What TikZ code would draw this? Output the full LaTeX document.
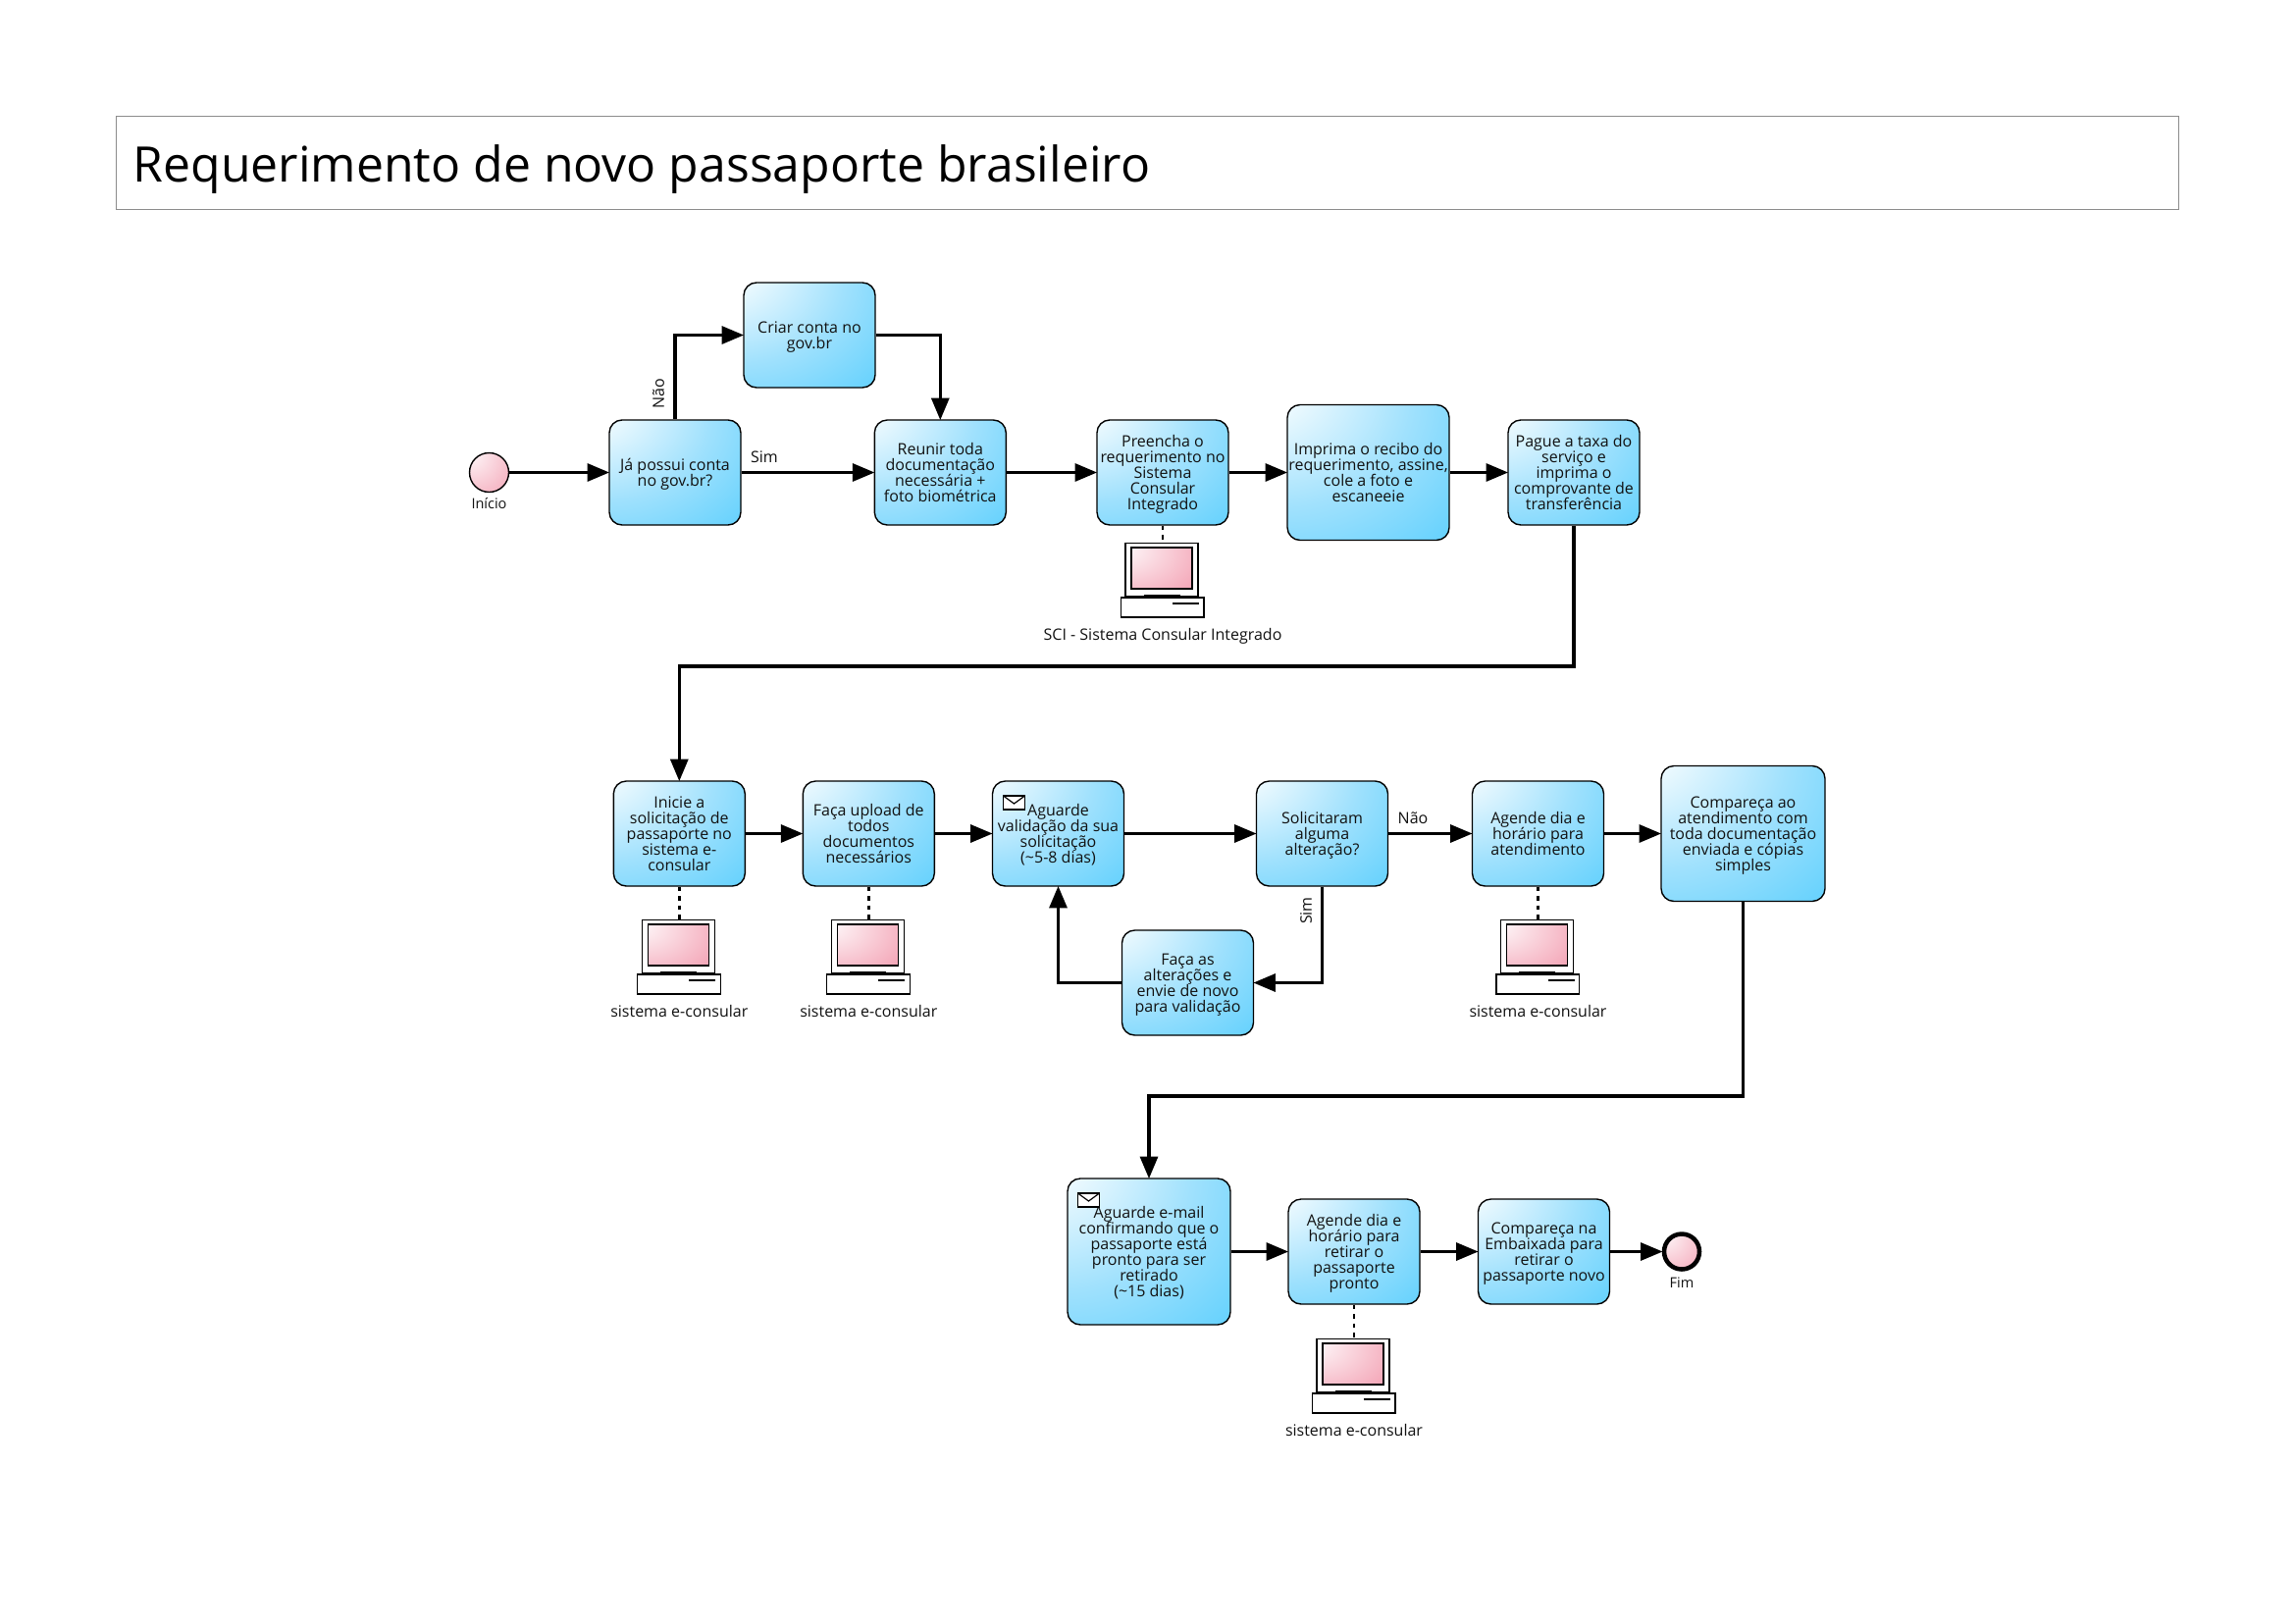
\documentclass[tikz,border=0pt]{standalone}
\usepackage{fontspec}
\setmainfont{Open Sans}
\usetikzlibrary{arrows.meta,positioning}
\definecolor{tasktext}{HTML}{111111}
\definecolor{bA}{HTML}{FFFFFF}
\definecolor{bB}{HTML}{A0E1FD}
\definecolor{bC}{HTML}{50CCFD}
\definecolor{pA}{HTML}{FDF0F3}
\definecolor{pB}{HTML}{F4A8B9}
\pgfdeclareradialshading{taskgrad}{\pgfpoint{-38bp}{38bp}}{
  color(0bp)=(bA); color(8bp)=(bA); color(41bp)=(bB); color(74bp)=(bC); color(150bp)=(bC)}
\pgfdeclareradialshading{pinkgrad}{\pgfpoint{-25bp}{25bp}}{
  color(0bp)=(pA); color(6bp)=(pA); color(58bp)=(pB); color(150bp)=(pB)}
\pgfdeclareradialshading{screengrad}{\pgfpoint{-35bp}{25bp}}{
  color(0bp)=(white); color(8bp)=(pA); color(58bp)=(pB); color(150bp)=(pB)}
\newcommand{\tx}[1]{\vbox{\baselineskip=16pt\lineskiplimit=-100pt\let\\\cr\halign{\hfil\rule{0pt}{16pt}\rule[-4pt]{0pt}{4pt}##\hfil\cr #1\cr}}}
\tikzset{
  x=1pt,y=-1pt,
  taskbox/.style={draw=black,line width=1.4pt,rounded corners=13pt,shading=taskgrad,
    minimum width=#1,inner sep=0pt,text=tasktext,
    font=\fontsize{16pt}{16pt}\selectfont},
  taskbox/.default=134pt,
  flow/.style={draw=black,line width=3.1pt,shorten >=-0.8pt,-{Triangle[length=22.5pt,width=18pt]}},
  lbl/.style={font=\fontsize{16pt}{16pt}\selectfont,text=tasktext,inner sep=0pt},
  small/.style={font=\fontsize{14.5pt}{16pt}\selectfont,text=tasktext,inner sep=0pt},
  assoc/.style={draw=black,line width=2.7pt,dash pattern=on 4.5pt off 5pt},
  startev/.style={circle,draw=black,line width=1.4pt,shading=pinkgrad,minimum size=40pt,inner sep=0pt},
  endev/.style={circle,draw=black,line width=4.5pt,shading=pinkgrad,minimum size=36pt,inner sep=0pt},
  pcline/.style={draw=black,line width=1.3pt},
}
% computer icon: #1 = name, #2 = centre x, #3 = top of monitor y
\newcommand{\pcicon}[3]{%
  \begin{scope}[shift={(#2,#3)}]
    \node[draw=black,line width=1.3pt,fill=white,minimum width=74pt,minimum height=54pt,inner sep=0pt,anchor=north] (#1) at (-1,0) {};
    \path[draw=black,line width=1.6pt,shading=screengrad] (-32,5) rectangle (30,47);
    \path[pcline,fill=white] (-18.5,54) rectangle (17,56);
    \path[pcline,fill=white] (-42.5,56) rectangle (42,76);
    \draw[black,line width=1.7pt] (10,62) -- (37,62);
  \end{scope}}
\newcommand{\envelope}[2]{%
  \begin{scope}[shift={(#1,#2)}]
    \draw[black,line width=1.2pt,fill=white] (0,0) rectangle (22,14);
    \draw[black,line width=1.2pt] (0,0) -- (11,8) -- (22,0);
  \end{scope}}
\begin{document}
\begin{tikzpicture}
\useasboundingbox (0,0) rectangle (2339,1654);
\node[draw=black!45,line width=1pt,anchor=north west,minimum width=2102pt,minimum height=95pt,inner sep=0pt] (titlebox) at (118,118) {};
\node[anchor=base west,inner sep=0pt,font=\fontsize{49.9pt}{60pt}\selectfont,text=black] (title) at (135.5,185.5) {Requerimento de novo passaporte brasileiro};

\node[startev] (inicio) at (498.5,481.5) {};
\node[small,anchor=north] (inicioL) at (498.5,507.5) {Início};

\node[taskbox,minimum height=107pt] (conta) at (688,481.5) {\tx{Já possui conta\\no gov.br?}};
\node[taskbox,minimum height=107pt] (criar) at (825,341.5) {\tx{Criar conta no\\gov.br}};
\node[taskbox,minimum height=107pt] (reunir) at (958.3,481.5) {\tx{Reunir toda\\documentação\\necessária +\\foto biométrica}};
\node[taskbox,minimum height=107pt] (preencha) at (1185,481.5) {\tx{Preencha o\\requerimento no\\Sistema\\Consular\\Integrado}};
\node[taskbox=165pt,minimum height=138pt] (imprima) at (1394.5,481.5) {\tx{Imprima o recibo do\\requerimento, assine,\\cole a foto e\\escaneeie}};
\node[taskbox,minimum height=107pt] (pague) at (1604,481.5) {\tx{Pague a taxa do\\serviço e\\imprima o\\comprovante de\\transferência}};

\node[taskbox,minimum height=107pt] (inicie) at (692.3,849.5) {\tx{Inicie a\\solicitação de\\passaporte no\\sistema e-\\consular}};
\node[taskbox,minimum height=107pt] (upload) at (885.3,849.5) {\tx{Faça upload de\\todos\\documentos\\necessários}};
\node[taskbox,minimum height=107pt] (aguarde) at (1078.5,849.5) {\tx{Aguarde\\validação da sua\\solicitação\\(\textasciitilde5-8 dias)}};
\node[taskbox,minimum height=107pt] (solic) at (1347.5,849.5) {\tx{Solicitaram\\alguma\\alteração?}};
\node[taskbox,minimum height=107pt] (altera) at (1210.5,1001.5) {\tx{Faça as\\alterações e\\envie de novo\\para validação}};
\node[taskbox,minimum height=107pt] (agende) at (1567.5,849.5) {\tx{Agende dia e\\horário para\\atendimento}};
\node[taskbox=167pt,minimum height=138pt] (compareca) at (1776.5,849.5) {\tx{Compareça ao\\atendimento com\\toda documentação\\enviada e cópias\\simples}};

\node[taskbox=166pt,minimum height=149pt] (email) at (1171,1275.5) {\tx{Aguarde e-mail\\confirmando que o\\passaporte está\\pronto para ser\\retirado\\(\textasciitilde15 dias)}};
\node[taskbox,minimum height=107pt] (agende2) at (1380,1275.5) {\tx{Agende dia e\\horário para\\retirar o\\passaporte\\pronto}};
\node[taskbox,minimum height=107pt] (comp2) at (1573.5,1275.5) {\tx{Compareça na\\Embaixada para\\retirar o\\passaporte novo}};
\node[endev] (fim) at (1714,1275.5) {};
\node[small,anchor=north] (fimL) at (1714,1301.5) {Fim};

\envelope{1022.5}{811}
\envelope{1098.5}{1216}

\pcicon{pcA}{1185}{553}
\pcicon{pcB}{692.3}{937}
\pcicon{pcC}{885.3}{937}
\pcicon{pcD}{1567.5}{937}
\pcicon{pcE}{1380}{1364}

\node[lbl,anchor=north] (pcAL) at (1185,640) {SCI - Sistema Consular Integrado};
\node[lbl,anchor=north] (pcBL) at (692.3,1024) {sistema e-consular};
\node[lbl,anchor=north] (pcCL) at (885.3,1024) {sistema e-consular};
\node[lbl,anchor=north] (pcDL) at (1567.5,1024) {sistema e-consular};
\node[lbl,anchor=north] (pcEL) at (1380,1451) {sistema e-consular};

\draw[assoc] (preencha.south) -- ([xshift=1pt]pcA.north);
\draw[assoc] (inicie.south) -- ([xshift=1pt]pcB.north);
\draw[assoc] (upload.south) -- ([xshift=1pt]pcC.north);
\draw[assoc] (agende.south) -- ([xshift=1pt]pcD.north);
\draw[assoc] (agende2.south) -- ([xshift=1pt]pcE.north);

\draw[flow] (inicio) -- (conta);
\draw[flow] (conta) -- (reunir);
\draw[flow] (conta.north) |- (criar.west);
\draw[flow] (criar.east) -| (reunir.north);
\draw[flow] (reunir) -- (preencha);
\draw[flow] (preencha) -- (imprima);
\draw[flow] (imprima) -- (pague);
\coordinate (bendA) at (1604,679);
\draw[flow] (pague.south) -- (bendA) -| (inicie.north);
\draw[flow] (inicie) -- (upload);
\draw[flow] (upload) -- (aguarde);
\draw[flow] (aguarde) -- (solic);
\draw[flow] (solic) -- (agende);
\draw[flow] (solic.south) |- (altera.east);
\draw[flow] (altera.west) -| (aguarde.south);
\draw[flow] (agende) -- (compareca);
\coordinate (bendB) at (1776.5,1117);
\draw[flow] (compareca.south) -- (bendB) -| (email.north);
\draw[flow] (email) -- (agende2);
\draw[flow] (agende2) -- (comp2);
\draw[flow] (comp2) -- (fim);

\node[lbl,rotate=90] (nao1) at (671,401) {Não};
\node[lbl] (sim1) at (779,466) {Sim};
\node[lbl] (nao2) at (1440,834) {Não};
\node[lbl,rotate=90] (sim2) at (1331,928) {Sim};
\end{tikzpicture}
\end{document}
